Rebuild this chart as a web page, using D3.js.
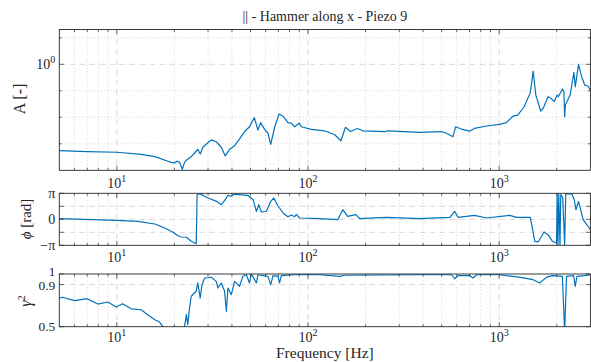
<!DOCTYPE html>
<html>
<head>
<meta charset="utf-8">
<script src="https://cdn.jsdelivr.net/npm/d3@7"></script>
<style>
body{margin:0;background:#fff;}
</style>
</head>
<body>
<svg id="c" width="591" height="362" font-family="'Liberation Serif', 'Times New Roman', 'DejaVu Serif', 'Noto Serif', serif"></svg>
<script>
// ---------- data ----------
const titleText = "|| - Hammer along x - Piezo 9";
const xDecades = [10, 100, 1000];
const xDecadeExp = ["1", "2", "3"];

const freqA = [5,7,10,13.4,15.8,18.5,19.2,20,20.6,21.3,22,22.6,23.1,24.5,25.5,26.5,27.3,28.2,29.5,31.2,33.1,35.2,36.9,38.9,41.3,43.5,46.6,49.4,52.4,54.7,56.5,59.3,61.7,63.8,67,70.5,74.1,78.5,81.8,85.2,89.9,92.4,104,122,138,148.6,157,167,181,194,252,262,383,500,529,573,592,634,700,742,860,1003,1090,1180,1250,1350,1450,1480,1505,1555,1650,1700,1800,1870,1940,2010,2040,2140,2180,2200,2220,2350,2460,2500,2600,2700,2800,2900,3000];
const ampA = [5.5e-4,5.1e-4,4.8e-4,4.0e-4,3.3e-4,2.2e-4,2.0e-4,1.9e-4,2.2e-4,2.0e-4,1.1e-4,2.0e-4,2.4e-4,3.3e-4,4.5e-4,6.2e-4,4.1e-4,7.4e-4,1.0e-3,1.4e-3,1.2e-3,7.4e-4,3.5e-4,6.2e-4,8.5e-4,1.4e-3,2.9e-3,4.4e-3,9.7e-3,3.3e-3,6.3e-3,3.5e-3,2.5e-3,9.6e-4,4.4e-3,1.33e-2,1.1e-2,6.3e-3,6.0e-3,4.4e-3,6.0e-3,4.4e-3,3.5e-3,3.1e-3,2.2e-3,1.3e-3,4.2e-3,2.9e-3,3.8e-3,3.1e-3,2.9e-3,3.1e-3,2.7e-3,2.9e-3,2.5e-3,1.86e-3,4.4e-3,3.6e-3,3.0e-3,3.8e-3,4.7e-3,5.4e-3,6.3e-3,1.1e-2,1.2e-2,2.5e-2,8.0e-2,0.2,0.56,0.069,0.017,0.022,0.06,0.052,0.039,0.069,0.06,0.117,0.093,0.0106,0.029,0.069,0.5,0.14,1.0,0.34,0.165,0.155,0.107];

const freqP = [5,10,12.9,15.8,17.8,19.6,20.9,21.7,23.1,24.5,26,26.3,27.1,30,33,35.2,36.9,38.1,39.7,41.3,45,48.5,51.6,53.7,55.3,57,60.6,63.8,66.3,69,74.1,78.5,81.8,85.2,86.8,90.5,115,143,152,161,178,186,258,383,552,585,609,742,860,1135,1236,1455,1536,1600,1717,1800,1900,1995,2010,2030,2050,2080,2100,2150,2200,2230,2400,2470,2520,2600,2750,3000];
const phaseP = [0.07,-0.13,-0.24,-0.57,-1.05,-1.53,-1.98,-2.14,-2.17,-2.66,-2.95,2.97,3.1,2.57,2.2,1.76,2.37,2.9,2.78,3.05,2.95,2.9,2.37,0.97,1.76,0.88,0.97,2.17,2.57,1.76,0.76,0.31,0.52,0.31,0.6,0.16,0.07,-0.05,1.16,0.36,0.56,0.07,0.24,0.07,0.24,0.97,0.24,0.48,0.16,0.48,0.24,0.24,-2.66,-2.74,-1.53,-1.86,-2.66,-2.86,3.1,-3.05,3.05,-3.1,3.0,2.6,-3.1,3.1,3.05,2.37,1.16,2.17,-0.05,-1.26];

const freqC = [5,5.2,6,7,7.95,8.97,9.93,10.7,11.9,13.4,14.5,15.8,16.7,17.4,18.5,20,21.5,22.6,23.1,23.5,24,24.5,26,26.5,27.3,27.9,28.8,31.2,33.1,33.8,35.2,36.6,37.4,38.1,39.7,41.3,43.8,45.6,47.6,49.4,50.5,53.7,54.7,61.7,63.8,65.6,69.6,71,72.5,85,115,147,155,386,564,585,609,700,730,762,1003,1270,1505,1630,1770,1900,2140,2200,2250,2450,2500,2550,2800,3000];
const cohC = [0.772,0.779,0.747,0.766,0.715,0.734,0.687,0.718,0.67,0.661,0.614,0.566,0.545,0.5,0.4,0.35,0.4,0.5,0.614,0.52,0.677,0.789,0.836,0.915,0.772,0.899,0.962,0.969,0.93,0.867,0.915,0.836,0.646,0.867,0.804,0.93,0.883,0.978,0.993,0.915,1.0,0.915,0.993,0.978,0.899,0.985,0.978,0.915,0.985,0.993,0.993,0.978,0.988,0.993,0.993,0.955,0.985,0.985,0.962,0.993,0.993,0.97,0.946,0.915,0.97,0.985,0.978,0.45,0.978,0.985,0.883,0.978,0.985,0.993];

// ---------- layout ----------
const FONT = "'Liberation Serif', 'Times New Roman', 'DejaVu Serif', 'Noto Serif', serif";
const svg = d3.select("#c");
const L = 59.3, R = 590.4;
const lineColor = "#0072BD";
const x = d3.scaleLog().domain([5, 3000]).range([L, R]);

const minorX = [];
[1,10,100,1000].forEach(d => { for (let k = 2; k <= 9; k++) { const v = d*k; if (v > 5 && v < 3000) minorX.push(v); } });

function txt(sel) { return sel.append("text").attr("font-family", FONT).attr("fill", "#262626"); }

function panel(id, top, bottom, y, yMajor, yMinor, yGridDashed, yGridDotted, yLabels, freqs, vals, xLabY) {
  const g = svg.append("g");
  svg.append("clipPath").attr("id", id).append("rect")
    .attr("x", L).attr("y", top).attr("width", R - L).attr("height", bottom - top);
  const grid = g.append("g");
  minorX.forEach(v => grid.append("line").attr("x1", x(v)).attr("x2", x(v)).attr("y1", top).attr("y2", bottom)
    .attr("stroke", "#c4c4c4").attr("stroke-width", 0.7).attr("stroke-dasharray", "1,2.2"));
  xDecades.forEach(v => grid.append("line").attr("x1", x(v)).attr("x2", x(v)).attr("y1", top).attr("y2", bottom)
    .attr("stroke", "#cfcfcf").attr("stroke-width", 0.8).attr("stroke-dasharray", "6,4"));
  yGridDotted.forEach(v => grid.append("line").attr("x1", L).attr("x2", R).attr("y1", y(v)).attr("y2", y(v))
    .attr("stroke", "#c4c4c4").attr("stroke-width", 0.7).attr("stroke-dasharray", "1,2.2"));
  yGridDashed.forEach(v => grid.append("line").attr("x1", L).attr("x2", R).attr("y1", y(v)).attr("y2", y(v))
    .attr("stroke", "#cfcfcf").attr("stroke-width", 0.8).attr("stroke-dasharray", "6,4"));
  const line = d3.line().x((d, i) => x(freqs[i])).y((d) => y(d));
  g.append("path").attr("d", line(vals)).attr("fill", "none").attr("stroke", lineColor)
    .attr("stroke-width", 1.2).attr("stroke-linejoin", "round").attr("clip-path", `url(#${id})`);
  const tk = g.append("g").attr("stroke", "#262626").attr("stroke-width", 0.7);
  minorX.forEach(v => {
    tk.append("line").attr("x1", x(v)).attr("x2", x(v)).attr("y1", bottom).attr("y2", bottom - 2.5);
    tk.append("line").attr("x1", x(v)).attr("x2", x(v)).attr("y1", top).attr("y2", top + 2.5);
  });
  xDecades.forEach(v => {
    tk.append("line").attr("x1", x(v)).attr("x2", x(v)).attr("y1", bottom).attr("y2", bottom - 4.5);
    tk.append("line").attr("x1", x(v)).attr("x2", x(v)).attr("y1", top).attr("y2", top + 4.5);
  });
  yMinor.forEach(v => {
    tk.append("line").attr("x1", L).attr("x2", L + 2.5).attr("y1", y(v)).attr("y2", y(v));
    tk.append("line").attr("x1", R).attr("x2", R - 2.5).attr("y1", y(v)).attr("y2", y(v));
  });
  yMajor.forEach(v => {
    tk.append("line").attr("x1", L).attr("x2", L + 4.5).attr("y1", y(v)).attr("y2", y(v));
    tk.append("line").attr("x1", R).attr("x2", R - 4.5).attr("y1", y(v)).attr("y2", y(v));
  });
  g.append("rect").attr("x", L).attr("y", top).attr("width", R - L).attr("height", bottom - top)
    .attr("fill", "none").attr("stroke", "#262626").attr("stroke-width", 0.9);
  xDecades.forEach((v, i) => {
    const t = txt(g).attr("x", x(v)).attr("y", xLabY).attr("text-anchor", "middle").attr("font-size", 14);
    t.append("tspan").text("10");
    t.append("tspan").attr("dy", -5.5).attr("font-size", 10).text(xDecadeExp[i]);
  });
  yLabels.forEach(o => {
    const t = txt(g).attr("x", L - 4).attr("y", y(o.v) + 4.5 + (o.dy || 0)).attr("text-anchor", "end").attr("font-size", o.fs || 14);
    if (o.sup) {
      t.append("tspan").text(o.base);
      t.append("tspan").attr("dy", -5.5).attr("font-size", 10).text(o.sup);
    } else t.text(o.base);
  });
  return g;
}

const yA = d3.scaleLog().domain([1e-4, 20.6]).range([170.3, 29.5]);
panel("cA", 29.5, 170.3, yA, [1], [1e-3, 1e-2, 1e-1, 10], [1], [1e-3, 1e-2, 1e-1, 10],
  [{v: 1, base: "10", sup: "0"}], freqA, ampA, 187.5);

const PI = Math.PI;
const yP = d3.scaleLinear().domain([-PI, PI]).range([245.3, 193.3]);
panel("cP", 193.3, 245.3, yP, [-PI, -PI/2, 0, PI/2, PI], [], [-PI/2, 0, PI/2], [],
  [{v: PI, base: "π"}, {v: 0, base: "0"}, {v: -PI, base: "−π"}], freqP, phaseP, 261.5);

const yC = d3.scaleLinear().domain([0.5, 1]).range([326.7, 274]);
panel("cC", 274, 326.7, yC, [0.5, 0.9, 1], [], [0.9], [],
  [{v: 1, base: "1", dy: -2.5, fs: 13}, {v: 0.9, base: "0.9", dy: 0.5, fs: 13.5}, {v: 0.5, base: "0.5", fs: 13.5}], freqC, cohC, 341.5);

txt(svg).attr("x", (L + R) / 2).attr("y", 21).attr("text-anchor", "middle")
  .attr("font-size", 14).text(titleText);

txt(svg).attr("transform", "translate(25,99) rotate(-90)").attr("text-anchor", "middle")
  .attr("font-size", 16).text("A [-]");
const tp = txt(svg).attr("transform", "translate(31,219) rotate(-90)").attr("text-anchor", "middle")
  .attr("font-size", 15);
tp.append("tspan").attr("font-style", "italic").text("ϕ");
tp.append("tspan").text(" [rad]");
const tc = txt(svg).attr("transform", "translate(31,301) rotate(-90)").attr("text-anchor", "middle")
  .attr("font-size", 16);
tc.append("tspan").attr("font-style", "italic").text("γ");
tc.append("tspan").attr("dy", -6).attr("font-size", 10.5).text("2");

txt(svg).attr("x", (L + R) / 2).attr("y", 358).attr("text-anchor", "middle")
  .attr("font-size", 15.5).text("Frequency [Hz]");
</script>
</body>
</html>
